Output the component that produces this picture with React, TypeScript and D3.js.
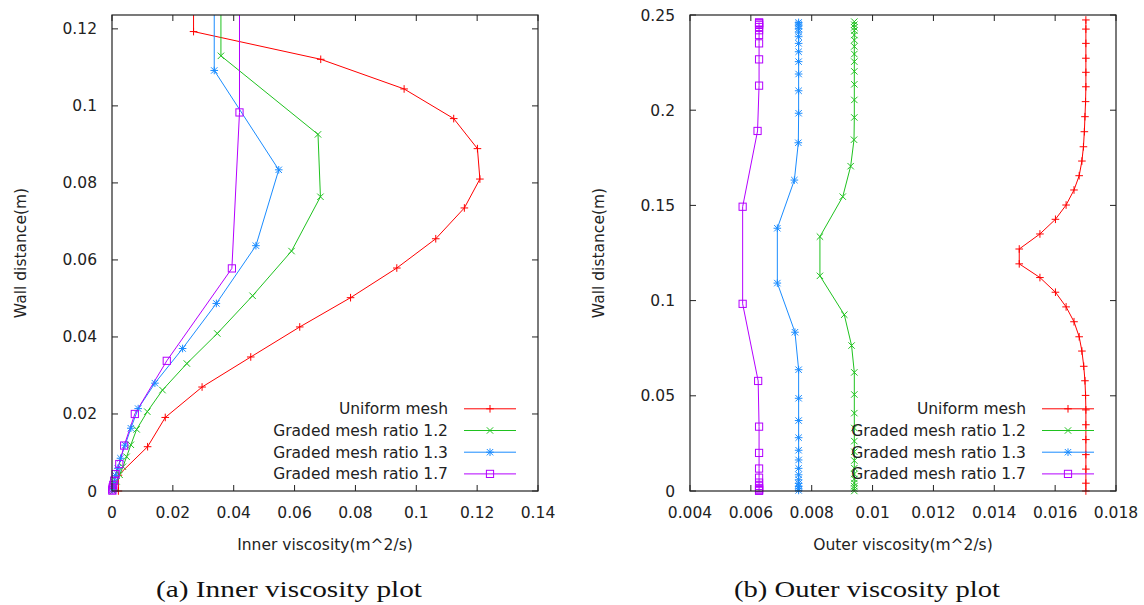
import React from "react";
import * as d3 from "d3";

// ---------- data ----------
// Cell-centre wall distances (m) for each mesh
const yUniform = [0, 0.0041, 0.0115, 0.0191, 0.027, 0.0348, 0.0426, 0.0502, 0.0579, 0.0655, 0.0735, 0.081, 0.0889, 0.0967, 0.1044, 0.1121, 0.1193, 0.1271, 0.135, 0.1427, 0.1502, 0.1581, 0.1656, 0.1733, 0.1808, 0.1887, 0.1966, 0.2045, 0.2123, 0.2199, 0.2273, 0.2351, 0.2426, 0.2474];
const yGraded12 = [0, 0.0012, 0.0025, 0.0042, 0.0063, 0.0089, 0.012, 0.016, 0.0206, 0.0262, 0.0331, 0.0409, 0.0507, 0.0623, 0.0764, 0.0926, 0.113, 0.1336, 0.1546, 0.1706, 0.1845, 0.1962, 0.2054, 0.2136, 0.2204, 0.2255, 0.2295, 0.2335, 0.2368, 0.2395, 0.2418, 0.2435, 0.2449, 0.2465];
const yGraded13 = [0.0003, 0.0012, 0.0024, 0.004, 0.0059, 0.0085, 0.0119, 0.0163, 0.0214, 0.028, 0.037, 0.0487, 0.0637, 0.0834, 0.1092, 0.138, 0.1633, 0.1829, 0.1984, 0.2102, 0.219, 0.2255, 0.2307, 0.2351, 0.2386, 0.241, 0.2428, 0.2442, 0.2452, 0.2461];
const yGraded17 = [0.0001, 0.0004, 0.0009, 0.0016, 0.0027, 0.0044, 0.007, 0.0118, 0.02, 0.0338, 0.0578, 0.0983, 0.1493, 0.1891, 0.2129, 0.2267, 0.2351, 0.2395, 0.242, 0.2437, 0.2448, 0.2455, 0.2459, 0.2461];

// Inner viscosity (m^2/s)
const innerUniform = [0.0021, 0.0021, 0.0117, 0.0175, 0.0296, 0.0456, 0.0617, 0.0784, 0.0936, 0.1064, 0.1158, 0.1209, 0.1201, 0.1123, 0.096, 0.0686, 0.0268, 0.0268, 0.0686, 0.096, 0.1123, 0.1201, 0.1209, 0.1158, 0.1064, 0.0936, 0.0784, 0.0617, 0.0456, 0.0296, 0.0175, 0.0117, 0.0021, 0.0021];
const innerGraded12 = [0.0003, 0.0008, 0.0015, 0.0025, 0.0036, 0.0048, 0.0062, 0.0081, 0.0116, 0.0166, 0.0246, 0.0346, 0.0462, 0.059, 0.0685, 0.0677, 0.0358, 0.0358, 0.0677, 0.0685, 0.059, 0.0462, 0.0346, 0.0246, 0.0166, 0.0116, 0.0081, 0.0062, 0.0048, 0.0036, 0.0025, 0.0015, 0.0008, 0.0003];
const innerGraded13 = [0.0001, 0.0003, 0.0007, 0.0012, 0.0019, 0.0028, 0.0043, 0.0062, 0.0086, 0.0141, 0.0232, 0.0343, 0.0473, 0.0548, 0.0336, 0.0336, 0.0548, 0.0473, 0.0343, 0.0232, 0.0141, 0.0086, 0.0062, 0.0043, 0.0028, 0.0019, 0.0012, 0.0007, 0.0003, 0.0001];
const innerGraded17 = [0.0001, 0.0001, 0.0002, 0.0004, 0.0007, 0.0012, 0.0024, 0.004, 0.0075, 0.018, 0.0394, 0.0419, 0.0419, 0.0394, 0.018, 0.0075, 0.004, 0.0024, 0.0012, 0.0007, 0.0004, 0.0002, 0.0001, 0.0001];

// Outer viscosity (m^2/s)
const outerUniform = [0.01701, 0.01701, 0.01701, 0.01701, 0.01701, 0.01701, 0.01701, 0.017, 0.01698, 0.01694, 0.01688, 0.01679, 0.01662, 0.01636, 0.01601, 0.0155, 0.01482, 0.01482, 0.0155, 0.01601, 0.01636, 0.01662, 0.01679, 0.01688, 0.01693, 0.01696, 0.01698, 0.017, 0.01701, 0.01701, 0.01701, 0.01701, 0.01701, 0.01701];
const outerGraded12 = [0.0094, 0.0094, 0.0094, 0.0094, 0.0094, 0.0094, 0.0094, 0.0094, 0.0094, 0.0094, 0.0094, 0.0094, 0.0094, 0.0094, 0.00931, 0.00907, 0.00827, 0.00827, 0.00902, 0.00928, 0.00939, 0.0094, 0.0094, 0.0094, 0.0094, 0.0094, 0.0094, 0.0094, 0.0094, 0.0094, 0.0094, 0.0094, 0.0094, 0.0094];
const outerGraded13 = [0.00757, 0.00757, 0.00757, 0.00757, 0.00757, 0.00757, 0.00757, 0.00757, 0.00757, 0.00757, 0.00757, 0.00757, 0.00757, 0.00745, 0.00687, 0.00687, 0.00743, 0.00756, 0.00757, 0.00757, 0.00757, 0.00757, 0.00757, 0.00757, 0.00757, 0.00757, 0.00757, 0.00757, 0.00757, 0.00757];
const outerGraded17 = [0.00627, 0.00627, 0.00627, 0.00627, 0.00627, 0.00627, 0.00627, 0.00627, 0.00627, 0.00627, 0.00624, 0.00573, 0.00573, 0.00622, 0.00627, 0.00627, 0.00627, 0.00627, 0.00627, 0.00627, 0.00627, 0.00627, 0.00627, 0.00627];

const seriesNames = ["Uniform mesh", "Graded mesh ratio 1.2", "Graded mesh ratio 1.3", "Graded mesh ratio 1.7"];
const seriesColors = ["#ff0000", "#1fc21f", "#1a8cff", "#b400ff"];
const seriesMarkers = ["plus", "cross", "star", "square"];
const meshY = [yUniform, yGraded12, yGraded13, yGraded17];

const innerXTicks = [0, 0.02, 0.04, 0.06, 0.08, 0.1, 0.12, 0.14];
const innerYTicks = [0, 0.02, 0.04, 0.06, 0.08, 0.1, 0.12];
const outerXTicks = [0.004, 0.006, 0.008, 0.01, 0.012, 0.014, 0.016, 0.018];
const outerYTicks = [0, 0.05, 0.1, 0.15, 0.2, 0.25];

const FONT = "'DejaVu Sans', sans-serif";
const fmt = (v: number) => String(+v.toFixed(4));

function Marker({ kind, x, y, color }: { kind: string; x: number; y: number; color: string }) {
  const s = 3.8;
  const d = 3.2;
  const parts: React.ReactNode[] = [];
  if (kind === "plus" || kind === "star") {
    parts.push(<line key="h" x1={x - s} x2={x + s} y1={y} y2={y} />);
    parts.push(<line key="v" x1={x} x2={x} y1={y - s} y2={y + s} />);
  }
  if (kind === "cross" || kind === "star") {
    parts.push(<line key="a" x1={x - d} x2={x + d} y1={y - d} y2={y + d} />);
    parts.push(<line key="b" x1={x - d} x2={x + d} y1={y + d} y2={y - d} />);
  }
  if (kind === "square") {
    parts.push(<rect key="r" x={x - 3.6} y={y - 3.6} width={7.2} height={7.2} fill="none" />);
  }
  return <g stroke={color} strokeWidth={1}>{parts}</g>;
}

function Panel({ id, x0, x1, y0, y1, xDomain, yDomain, xTicks, yTicks, xs, xLabel, caption }: any) {
  const xs_ = d3.scaleLinear().domain(xDomain).range([x0, x1]);
  const ys_ = d3.scaleLinear().domain(yDomain).range([y1, y0]);
  const line = d3.line<[number, number]>().x((d) => xs_(d[0])).y((d) => ys_(d[1]));
  const tick = 6;
  const inRange = (vx: number, vy: number) =>
    vx >= xDomain[0] && vx <= xDomain[1] && vy >= yDomain[0] && vy <= yDomain[1];
  const legendTextX = x0 + 336;
  const legendL1 = x0 + 352;
  const legendL2 = x0 + 404;
  const legendM = x0 + 378;
  return (
    <g>
      <defs>
        <clipPath id={id}>
          <rect x={x0} y={y0} width={x1 - x0} height={y1 - y0} />
        </clipPath>
      </defs>
      {/* ticks */}
      <g stroke="#222" strokeWidth={1}>
        {xTicks.map((t: number) => (
          <g key={"xt" + t}>
            <line x1={xs_(t)} x2={xs_(t)} y1={y1} y2={y1 - tick} />
            <line x1={xs_(t)} x2={xs_(t)} y1={y0} y2={y0 + tick} />
          </g>
        ))}
        {yTicks.map((t: number) => (
          <g key={"yt" + t}>
            <line x1={x0} x2={x0 + tick} y1={ys_(t)} y2={ys_(t)} />
            <line x1={x1} x2={x1 - tick} y1={ys_(t)} y2={ys_(t)} />
          </g>
        ))}
      </g>
      {/* tick labels */}
      <g fontFamily={FONT} fontSize={15.5} fill="#222">
        {xTicks.map((t: number) => (
          <text key={"xl" + t} x={xs_(t)} y={y1 + 27} textAnchor="middle">{fmt(t)}</text>
        ))}
        {yTicks.map((t: number) => (
          <text key={"yl" + t} x={x0 - 15} y={ys_(t) + 5.5} textAnchor="end">{fmt(t)}</text>
        ))}
        <text x={(x0 + x1) / 2} y={y1 + 59} textAnchor="middle">{xLabel}</text>
        <text transform={`translate(${x0 - 86},${(y0 + y1) / 2}) rotate(-90)`} textAnchor="middle">Wall distance(m)</text>
      </g>
      {/* series lines */}
      <g clipPath={`url(#${id})`} fill="none">
        {xs.map((arr: number[], i: number) => {
          const pts = arr.map((v, j) => [v, meshY[i][j]] as [number, number]);
          return <path key={"s" + i} d={line(pts) || ""} stroke={seriesColors[i]} strokeWidth={1} />;
        })}
      </g>
      {/* markers */}
      {xs.map((arr: number[], i: number) => (
        <g key={"m" + i}>
          {arr.map((v, j) =>
            inRange(v, meshY[i][j]) ? (
              <Marker key={j} kind={seriesMarkers[i]} x={xs_(v)} y={ys_(meshY[i][j])} color={seriesColors[i]} />
            ) : null
          )}
        </g>
      ))}
      {/* legend */}
      {seriesNames.map((name, i) => {
        const cy = 408.8 + i * 21.7;
        return (
          <g key={"lg" + i}>
            <text x={legendTextX} y={cy + 5.5} textAnchor="end" fontFamily={FONT} fontSize={15.5} fill="#222">{name}</text>
            <line x1={legendL1} x2={legendL2} y1={cy} y2={cy} stroke={seriesColors[i]} strokeWidth={1} />
            <Marker kind={seriesMarkers[i]} x={legendM} y={cy} color={seriesColors[i]} />
          </g>
        );
      })}
      {/* frame */}
      <rect x={x0} y={y0} width={x1 - x0} height={y1 - y0} fill="none" stroke="#222" strokeWidth={1.2} />
      {/* caption */}
      <text x={x0 + 177} y={597} textAnchor="middle" fontFamily="'Liberation Serif', serif" fontSize={24} fill="#111"
        textLength={266} lengthAdjust="spacingAndGlyphs">{caption}</text>
    </g>
  );
}

export default function App() {
  return (
    <svg width={1144} height={605} style={{ position: "absolute", left: 0, top: 0, background: "#fff" }}>
      <rect x={0} y={0} width={1144} height={605} fill="#fff" />
      <Panel id="clipA" x0={112} x1={538} y0={15} y1={491} xDomain={[0, 0.14]} yDomain={[0, 0.1236]}
        xTicks={innerXTicks} yTicks={innerYTicks}
        xs={[innerUniform, innerGraded12, innerGraded13, innerGraded17]}
        xLabel="Inner viscosity(m^2/s)" caption="(a) Inner viscosity plot" />
      <Panel id="clipB" x0={690} x1={1116} y0={15} y1={491} xDomain={[0.004, 0.018]} yDomain={[0, 0.25]}
        xTicks={outerXTicks} yTicks={outerYTicks}
        xs={[outerUniform, outerGraded12, outerGraded13, outerGraded17]}
        xLabel="Outer viscosity(m^2/s)" caption="(b) Outer viscosity plot" />
    </svg>
  );
}
